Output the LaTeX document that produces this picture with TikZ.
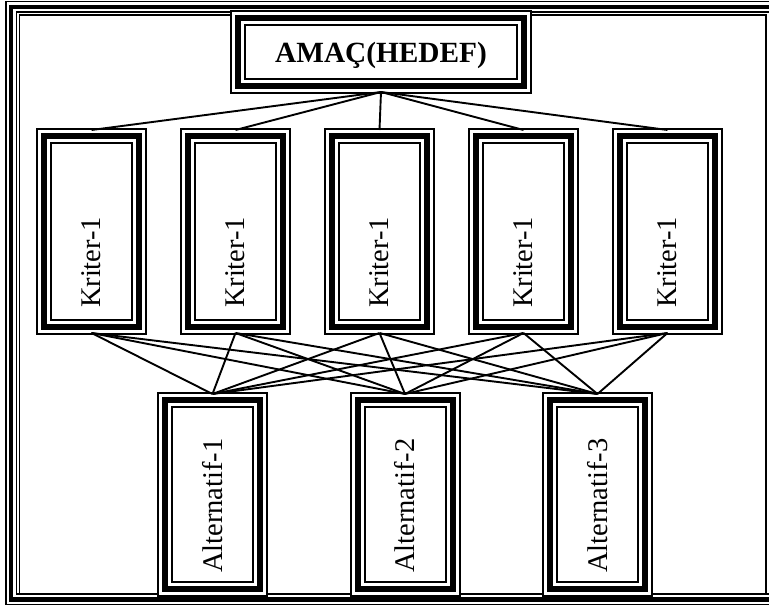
\documentclass[tikz,border=0pt]{standalone}
\usepackage{fontspec}
\setmainfont{Liberation Serif}

\begin{document}
\begin{tikzpicture}[x=1pt,y=1pt,
    tribox/.style={draw,line width=6pt,outer sep=6pt,inner sep=0pt,
      preaction={draw,line width=16pt},
      preaction={draw=white,line width=12pt},
      font=\fontsize{28.5}{34}\selectfont},
    goalbox/.style={tribox,minimum width=286pt,minimum height=68pt,text depth=0pt,
      font=\fontsize{29.3}{35}\selectfont\bfseries},
    critbox/.style={tribox,rotate=90,minimum height=95pt,text width=153pt,inner xsep=19pt,align=left},
    altbox/.style={tribox,rotate=90,minimum height=95pt,text width=157pt,inner xsep=16pt,align=left},
    pageframe/.style={draw,line width=4.5pt,
      preaction={draw,line width=12pt},
      preaction={draw=white,line width=9pt}},
    link/.style={line width=1.9pt}]
    \useasboundingbox (0,0) rectangle (769,607);
    \clip (0,0) rectangle (769,607);
    % page border
    \draw[pageframe] (11,7.5) rectangle (776,600);
    \draw[line width=1.7pt] (19.5,13) rectangle (766,592);
    % goal, criteria, alternatives
    \node[goalbox] (goal) at (381,555) {AMAÇ(HEDEF)};
    \node[critbox] (k1) at (91.5,375.5) {Kriter-1};
    \node[critbox] (k2) at (235.5,375.5) {Kriter-1};
    \node[critbox] (k3) at (379.5,375.5) {Kriter-1};
    \node[critbox] (k4) at (523.5,375.5) {Kriter-1};
    \node[critbox] (k5) at (667.5,375.5) {Kriter-1};
    \node[altbox] (a1) at (212.5,112.5) {Alternatif-1};
    \node[altbox] (a2) at (405,112.5) {Alternatif-2};
    \node[altbox] (a3) at (597.5,112.5) {Alternatif-3};
    % links (rotated boxes: east is the top, west the bottom)
    \draw[link] (goal.south)--(k1.east); \draw[link] (goal.south)--(k2.east); \draw[link] (goal.south)--(k3.east);
    \draw[link] (goal.south)--(k4.east); \draw[link] (goal.south)--(k5.east);
    \draw[link] (k1.west)--(a1.east); \draw[link] (k1.west)--(a2.east); \draw[link] (k1.west)--(a3.east);
    \draw[link] (k2.west)--(a1.east); \draw[link] (k2.west)--(a2.east); \draw[link] (k2.west)--(a3.east);
    \draw[link] (k3.west)--(a1.east); \draw[link] (k3.west)--(a2.east); \draw[link] (k3.west)--(a3.east);
    \draw[link] (k4.west)--(a1.east); \draw[link] (k4.west)--(a2.east); \draw[link] (k4.west)--(a3.east);
    \draw[link] (k5.west)--(a1.east); \draw[link] (k5.west)--(a2.east); \draw[link] (k5.west)--(a3.east);
\end{tikzpicture}
\end{document}
